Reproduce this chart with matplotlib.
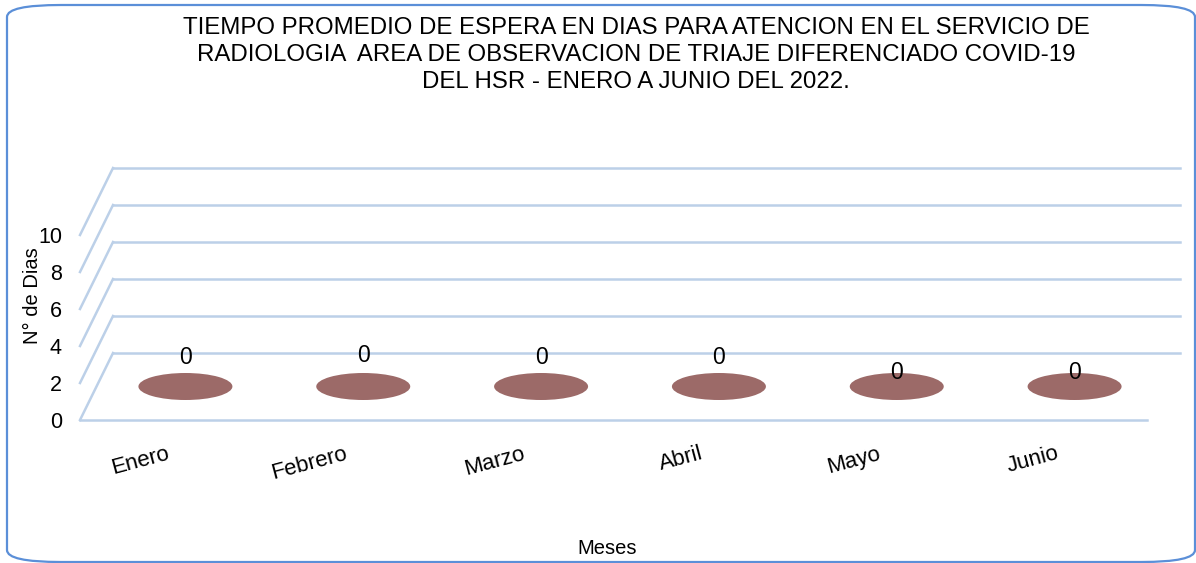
import matplotlib.pyplot as plt
from matplotlib.patches import Ellipse, FancyBboxPatch

plt.rcParams['font.family'] = ['Liberation Sans', 'DejaVu Sans']

meses = ['Enero', 'Febrero', 'Marzo', 'Abril', 'Mayo', 'Junio']
dias = [0, 0, 0, 0, 0, 0]
yticks = [0, 2, 4, 6, 8, 10]

titulo = ('TIEMPO PROMEDIO DE ESPERA EN DIAS PARA ATENCION EN EL SERVICIO DE\n'
          'RADIOLOGIA  AREA DE OBSERVACION DE TRIAJE DIFERENCIADO COVID-19\n'
          'DEL HSR - ENERO A JUNIO DEL 2022.')

grid_col = '#bcd0e8'
bar_col = '#9c6a68'

fig = plt.figure(figsize=(11.96, 5.63), dpi=100)

# rounded chart frame
frame = FancyBboxPatch((7 / 1196, 1 / 563), 1188 / 1196, 557 / 563,
                       boxstyle='round,pad=0,rounding_size=0.045',
                       transform=fig.transFigure, fill=False,
                       edgecolor='#5b8fd8', linewidth=1.6,
                       mutation_aspect=563 / 1196)
fig.patches.append(frame)

# front plane of the pseudo 3d chart
ax = fig.add_axes([80 / 1196, 143 / 563, 1067 / 1196, 185 / 563])
n = len(meses)
ax.set_xlim(0, n)
ax.set_ylim(0, 10)
for s in ax.spines.values():
    s.set_visible(False)

# depth offset in data units (33 px right, 67 px up)
dx = 33 / (1067 / n)
dy = 67 / 18.5

for v in yticks:
    ax.plot([0, dx], [v, v + dy], color=grid_col, lw=1.8, clip_on=False)
    ax.plot([dx, n + dx], [v + dy, v + dy], color=grid_col, lw=1.8, clip_on=False)
ax.plot([0, n], [0, 0], color=grid_col, lw=1.8, clip_on=False)

lift = [21, 22, 21, 21, 10, 10]
for i, val in enumerate(dias):
    cx = i + 0.5 + dx / 2
    cy = val + dy / 2
    ax.add_patch(Ellipse((cx, cy), 94 / (1067 / n), 27 / 18.5,
                         facecolor=bar_col, edgecolor='none', clip_on=False))
    ax.annotate(str(val), (cx, cy), xytext=(0, lift[i]), textcoords='offset points',
                ha='center', va='center', fontsize=16.5, color='black')

ax.set_yticks(yticks)
ax.set_yticklabels([str(t) for t in yticks], fontsize=15.5)
ax.set_xticks([i + 0.5 for i in range(n)])
ax.set_xticklabels(meses, fontsize=16, rotation=15, ha='right',
                   rotation_mode='anchor')
ax.tick_params(axis='y', length=0, pad=13)
ax.tick_params(axis='x', length=0, pad=24)
for lab in ax.get_xticklabels():
    lab.set_va('center')

fig.text(32 / 1196, 1 - 296 / 563, 'N° de Dias', rotation=90,
         ha='center', va='center', fontsize=14.5)
fig.text(607 / 1196, 1 - 549 / 563, 'Meses', ha='center', va='center', fontsize=14.5)
fig.text(636 / 1196, 1 - 17 / 563, titulo, ha='center', va='top',
         fontsize=17.3, linespacing=1.3)

fig.savefig('out.png', dpi=100)
